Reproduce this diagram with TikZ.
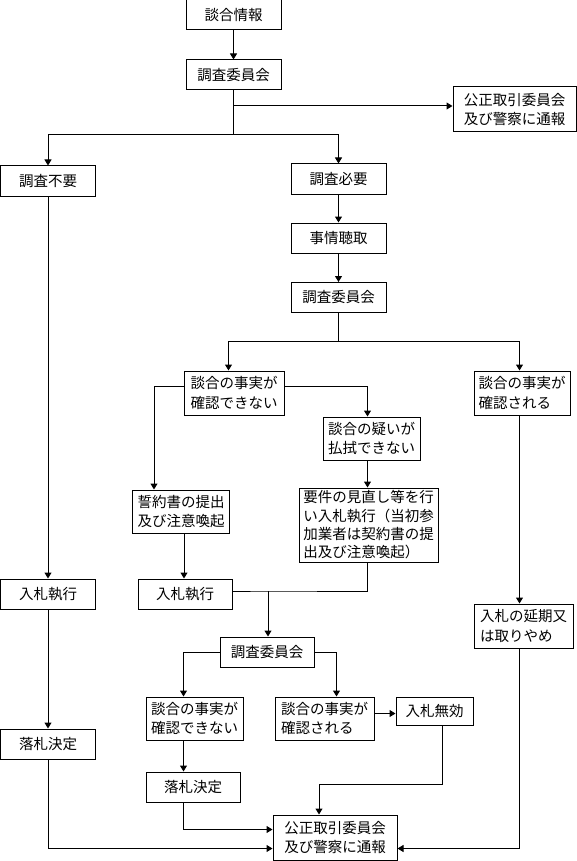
\documentclass[tikz,border=0pt]{standalone}
\usepackage{fontspec}
\setmainfont{Noto Sans CJK JP}
\usetikzlibrary{arrows.meta,calc}
\tikzset{
  box/.style={draw, line width=1pt, inner sep=0pt, minimum width=#1, align=left,
    font=\fontsize{14.5}{19.5}\selectfont},
  box/.default=95pt,
  arr/.style={line width=1pt, -{Triangle[length=6pt,width=7pt]}},
  ln/.style={line width=1pt},
}
\begin{document}
\begin{tikzpicture}[x=1pt,y=-1pt]
\useasboundingbox (0,0) rectangle (577,861);
% top
\node[box, minimum height=30pt] (n1) at (233.5,15) {談合情報};
\node[box, minimum height=30pt] (n2) at (233.5,75) {調査委員会};
\node[box=123pt, minimum height=45pt] (n3) at (514.5,109.5) {公正取引委員会\\及び警察に通報};
\node[box, minimum height=30pt] (n4) at (48,181) {調査不要};
\node[box, minimum height=30pt] (n5) at (338.5,179) {調査必要};
\node[box, minimum height=30pt] (n6) at (338.5,238) {事情聴取};
\node[box, minimum height=30pt] (n7) at (338.5,297.5) {調査委員会};
% middle
\node[box=100pt, minimum height=44pt] (n8) at (234,393) {談合の事実が\\確認できない};
\node[box=96pt, minimum height=44pt] (n19) at (522,393) {談合の事実が\\確認される};
\node[box=97pt, minimum height=43pt] (n9) at (181,511.5) {誓約書の提出\\及び注意喚起};
\node[box=97pt, minimum height=43pt] (n10) at (371.5,438.5) {談合の疑いが\\払拭できない};
\node[box=139pt, minimum height=74pt, font=\fontsize{14.5}{18.3}\selectfont] (n11) at (368.5,525)
  {要件の見直し等を行\\い入札執行（当初参\\加業者は契約書の提\\出及び注意喚起）};
\node[box=94pt, minimum height=30pt] (n12) at (185,594) {入札執行};
\node[box, minimum height=30pt] (n21) at (48,594) {入札執行};
\node[box=99pt, minimum height=44pt] (n20) at (523.5,626) {入札の延期又\\は取りやめ};
\node[box=94pt, minimum height=30pt] (n13) at (267,652) {調査委員会};
\node[box=97pt, minimum height=43pt] (n14) at (194.5,718.5) {談合の事実が\\確認できない};
\node[box=99pt, minimum height=43pt] (n15) at (324.5,718.5) {談合の事実が\\確認される};
\node[box=77pt, minimum height=28pt] (n16) at (434.5,711) {入札無効};
\node[box, minimum height=30pt] (n22) at (48,744) {落札決定};
\node[box=94pt, minimum height=30pt] (n17) at (193,787) {落札決定};
\node[box=124pt, minimum height=45pt] (n18) at (335,837.5) {公正取引委員会\\及び警察に通報};
% junctions
\coordinate (j1) at (233.5,106);
\coordinate (j2) at (233.5,135);
\coordinate (j3) at (338.5,341);
\coordinate (j4) at (268,591);
\coordinate (j5) at (319,784);
% connectors
\draw[arr] (n1) -- (n2);
\draw[ln] (n2.south) -- (j2);
\draw[arr] (j1) -- (j1 -| n3.west);
\draw[arr] (j2) -| (n4.north);
\draw[arr] (j2) -| (n5.north);
\draw[arr] (n5) -- (n6);
\draw[arr] (n6) -- (n7);
\draw[ln] (n7.south) -- (j3);
\draw[arr] (j3) -| ($(n8.north west)+(45,0)$);
\draw[arr] (j3) -| ($(n19.north west)+(46,0)$);
\draw[arr] ($(n8.north west)+(0,16)$) -| ($(n9.north west)+(22,0)$);
\draw[arr] ($(n8.north east)+(0,16)$) -| ($(n10.north west)+(45,0)$);
\draw[arr] ($(n10.south west)+(45,0)$) -- ($(n11.north west)+(69,0)$);
\draw[arr] ($(n9.south west)+(52,0)$) coordinate (p9) -- (p9 |- n12.north);
\draw[ln] (n12.east |- j4) -- (j4) -| ($(n11.south west)+(69,0)$);
\draw[arr] (j4) -- (j4 |- n13.north);
\draw[arr] (n13.west) -| ($(n14.north west)+(38,0)$);
\draw[arr] (n13.east) -| ($(n15.north west)+(62,0)$);
\draw[arr] ($(n15.east)+(0,-5)$) coordinate (p15) -- (p15 -| n16.west);
\draw[arr] ($(n14.south west)+(38,0)$) coordinate (p14) -- (p14 |- n17.north);
\draw[arr] ($(n17.south west)+(38,0)$) |- ($(n18.north west)+(0,15)$);
\draw[arr] ($(n16.south west)+(47,0)$) |- (j5) -- (j5 |- n18.north);
\draw[arr] ($(n19.south west)+(46,0)$) coordinate (p19) -- (p19 |- n20.north);
\draw[arr] ($(n20.south west)+(46,0)$) |- ($(n18.south east)+(0,-12)$);
\draw[arr] (n4) -- (n21);
\draw[arr] (n21) -- (n22);
\draw[arr] (n22.south) |- ($(n18.south west)+(0,-12)$);
\end{tikzpicture}
\end{document}
